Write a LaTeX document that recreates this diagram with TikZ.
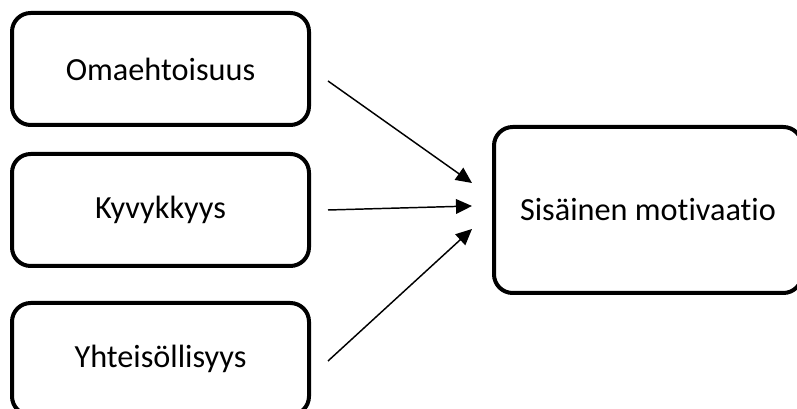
\documentclass[tikz,border=0pt]{standalone}
\usepackage{fontspec}
\setmainfont{Carlito}[Ligatures=NoCommon]
\usepackage{tikz}
\usetikzlibrary{arrows.meta}
\usetikzlibrary{positioning}

\begin{document}
\begin{tikzpicture}[->,>={Triangle[length=12pt,width=11pt]},x=0.75pt,y=-0.75pt,
                    line width=1.1pt,node distance=18.75pt]
 \tikzset{box/.style={draw,line width=3pt,rounded corners=14pt,fill=white,
   minimum width=222.75pt,minimum height=84pt,inner sep=0pt,
   font=\fontsize{24.2}{29}\selectfont}}
 \useasboundingbox (0,0) rectangle (797,409);
  \node[box] (oma) at (160.5,69) {Omaehtoisuus};
  \node[box] (kyv) [below = of oma] {Kyvykkyys};
  \node[box] (yht) [below = 24.75pt of kyv] {Yhteisöllisyys};
  \node[box, minimum width=231pt, minimum height=124.5pt] (sis) at (648,210) {Sisäinen motivaatio};
\path ([shift={(17,12)}]oma.east) edge ([shift={(-20,-27)}]sis.west)
      ([shift={(17,0)}]kyv.east) edge ([shift={(-20,-4)}]sis.west)
      ([shift={(17,2)}]yht.east) edge ([shift={(-20,19)}]sis.west);
\end{tikzpicture}
\end{document}
